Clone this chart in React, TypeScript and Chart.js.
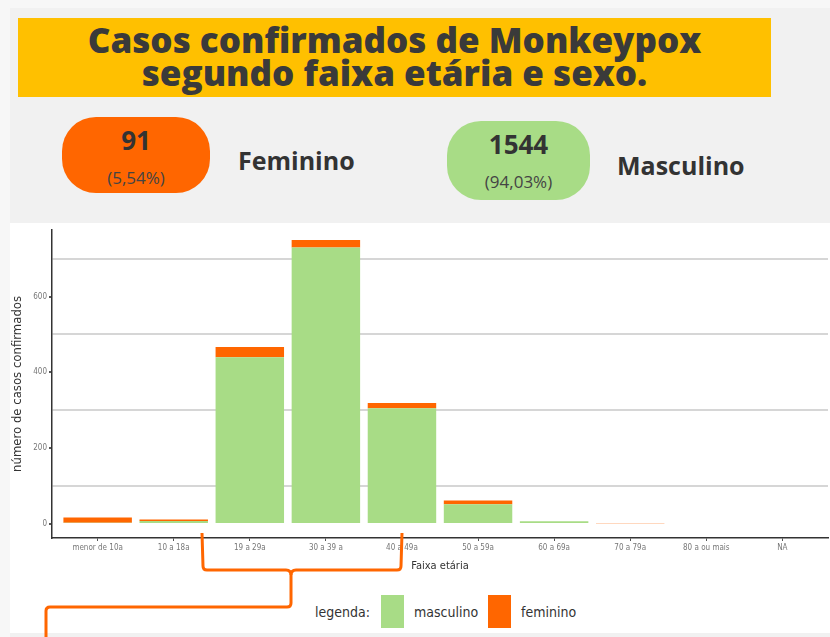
import React, { useEffect, useRef } from "react";
import { Chart, registerables } from "chart.js";

Chart.register(...registerables);

const categories = [
  "menor de 10a",
  "10 a 18a",
  "19 a 29a",
  "30 a 39 a",
  "40 a 49a",
  "50 a 59a",
  "60 a 69a",
  "70 a 79a",
  "80 a ou mais",
  "NA",
];
const masculino = [3, 8, 440, 729, 305, 52, 7, 0, 0, 0];
const feminino = [14, 4, 27, 20, 14, 10, 0, 2, 0, 0];
const yTickValues = [0, 100, 200, 300, 400, 500, 600, 700];

const GREEN = "#a8dc86";
const ORANGE = "#ff6600";
const NARROW = "'DejaVu Sans Condensed', 'Liberation Sans Narrow', 'Liberation Sans', sans-serif";

function BarChart() {
  const ref = useRef<HTMLCanvasElement | null>(null);
  useEffect(() => {
    if (!ref.current) return;
    const chart = new Chart(ref.current, {
      type: "bar",
      data: {
        datasets: [
          {
            label: "masculino",
            data: masculino.map((v, i) => ({ x: i + 1, y: v })),
            backgroundColor: GREEN,
            categoryPercentage: 1,
            barPercentage: 0.9,
          },
          {
            label: "feminino",
            data: feminino.map((v, i) => ({ x: i + 1, y: v })),
            backgroundColor: ORANGE,
            categoryPercentage: 1,
            barPercentage: 0.9,
          },
        ],
      },
      options: {
        animation: false,
        responsive: false,
        maintainAspectRatio: false,
        layout: { padding: { top: 2, right: 2, left: 0, bottom: 0 } },
        plugins: { legend: { display: false }, tooltip: { enabled: false } },
        scales: {
          x: {
            type: "linear",
            stacked: true,
            offset: false,
            min: 0.4,
            max: 10.6,
            afterBuildTicks: (scale: any) => {
              scale.ticks = categories.map((_, i) => ({ value: i + 1 }));
            },
            afterFit: (scale: any) => {
              scale.height = 37;
            },
            ticks: {
              autoSkip: false,
              maxRotation: 0,
              padding: 2,
              color: "#777",
              font: { family: NARROW, size: 8 },
              callback: (v: any) => categories[Number(v) - 1] ?? "",
            },
            grid: {
              display: true,
              offset: false,
              drawOnChartArea: false,
              drawTicks: true,
              tickLength: 3,
              tickColor: "#555",
            },
            border: { display: true, color: "#333", width: 1.5 },
            title: {
              display: true,
              text: "Faixa etária",
              color: "#333",
              font: { family: NARROW, size: 11 },
              padding: { top: 0, bottom: 2 },
            },
          },
          y: {
            type: "linear",
            stacked: true,
            min: -37,
            max: 776,
            afterBuildTicks: (scale: any) => {
              scale.ticks = yTickValues.map((v) => ({ value: v }));
            },
            afterFit: (scale: any) => {
              scale.width = 42;
            },
            ticks: {
              padding: 2,
              color: "#777",
              font: { family: NARROW, size: 8 },
              callback: (v: any) => (Number(v) % 200 === 0 ? String(v) : ""),
            },
            grid: {
              color: (ctx: any) =>
                ctx.tick && ctx.tick.value % 200 === 100 ? "#d6d6d6" : "rgba(0,0,0,0)",
              lineWidth: 2,
              tickLength: 3,
              tickColor: (ctx: any) =>
                ctx.tick && ctx.tick.value % 200 === 0 ? "#555" : "rgba(0,0,0,0)",
            },
            border: { display: true, color: "#333", width: 1.5 },
            title: {
              display: true,
              text: "número de casos confirmados",
              color: "#333",
              font: { family: NARROW, size: 13 },
              padding: { top: 0, bottom: 4 },
            },
          },
        },
      },
    });
    return () => chart.destroy();
  }, []);
  return <canvas ref={ref} width={820} height={352} style={{ display: "block" }} />;
}

export default function App() {
  useEffect(() => {
    document.body.style.margin = "0";
  }, []);
  const pill = (bg: string, left: number, top: number, w: number, h: number, big: string, small: string) => (
    <div
      style={{
        position: "absolute",
        left,
        top,
        width: w,
        height: h,
        background: bg,
        borderRadius: 34,
        textAlign: "center",
        fontFamily: "'Open Sans', sans-serif",
        color: "#333",
      }}
    >
      <div style={{ fontWeight: 700, fontSize: 26, lineHeight: "28px", marginTop: 9 }}>{big}</div>
      <div style={{ fontSize: 17, lineHeight: "22px", marginTop: 13, color: "#444" }}>{small}</div>
    </div>
  );
  return (
    <div style={{ position: "relative", width: 830, height: 637, background: "#f7f7f7", overflow: "hidden" }}>
      <div style={{ position: "absolute", left: 10, top: 8, width: 820, height: 629, background: "#f1f1f1" }} />
      <div
        style={{
          position: "absolute",
          left: 18,
          top: 18,
          width: 753,
          height: 79,
          background: "#ffc000",
          textAlign: "center",
          fontFamily: "'Open Sans', sans-serif",
          fontWeight: 800,
          fontSize: 35,
          lineHeight: "33px",
          color: "#3a3a3a",
          paddingTop: 5,
          boxSizing: "border-box",
          whiteSpace: "nowrap",
        }}
      >
        Casos confirmados de Monkeypox
        <br />
        segundo faixa etária e sexo.
      </div>
      {pill(ORANGE, 62, 117, 148, 76, "91", "(5,54%)")}
      <div
        style={{
          position: "absolute",
          left: 238,
          top: 143,
          fontFamily: "'Open Sans', sans-serif",
          fontWeight: 700,
          fontSize: 25,
          color: "#333",
        }}
      >
        Feminino
      </div>
      {pill(GREEN, 447, 121, 143, 79, "1544", "(94,03%)")}
      <div
        style={{
          position: "absolute",
          left: 617,
          top: 148,
          fontFamily: "'Open Sans', sans-serif",
          fontWeight: 700,
          fontSize: 25,
          color: "#333",
        }}
      >
        Masculino
      </div>
      <div style={{ position: "absolute", left: 10, top: 223, width: 820, height: 410, background: "#ffffff" }}>
        <BarChart />
        <div
          style={{
            position: "absolute",
            left: 305,
            top: 372,
            display: "flex",
            alignItems: "center",
            fontFamily: NARROW,
            fontSize: 14,
            color: "#333",
          }}
        >
          <span style={{ marginRight: 11 }}>legenda:</span>
          <span style={{ width: 23, height: 33, background: GREEN, marginRight: 10 }} />
          <span style={{ marginRight: 10 }}>masculino</span>
          <span style={{ width: 23, height: 33, background: ORANGE, marginRight: 10 }} />
          <span>feminino</span>
        </div>
      </div>
      <svg
        width={830}
        height={637}
        style={{ position: "absolute", left: 0, top: 0, pointerEvents: "none" }}
      >
        <path
          d="M202 533 L203 566 Q203 570 207 570 L286 570 Q291 570 291 575 L291 603 Q291 607 287 607 L50 607 Q46 607 46 611 L46 640"
          fill="none"
          stroke={ORANGE}
          strokeWidth={3}
        />
        <path
          d="M402 533 L401 566 Q401 570 397 570 L296 570 Q291 570 291 575"
          fill="none"
          stroke={ORANGE}
          strokeWidth={3}
        />
      </svg>
    </div>
  );
}
